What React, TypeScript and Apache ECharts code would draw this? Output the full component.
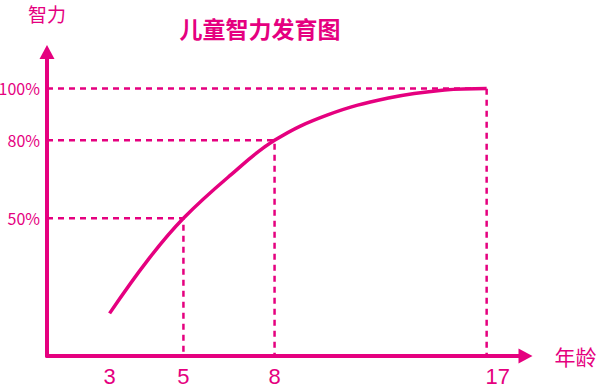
import { useEffect, useRef } from 'react';
import * as echarts from 'echarts';

const TITLE = '儿童智力发育图';
const Y_NAME = '智力';
const X_NAME = '年龄';
// tick labels
const ageTicks = [3, 5, 8, 17];
const levelTicks = [50, 80, 100];
// dashed guide lines (age, level)
const guideAges = [5, 8, 17];
const guideLevels = [50, 80, 100];
// development curve
const curveAges = [3, 4, 5, 6.5, 8, 10, 12.5, 15, 17];
const curveLevels = [13.4, 34.2, 50, 66.8, 80, 89.8, 96.3, 99.4, 100];

// power scale for the age axis (schematic, compressed with age)
const EXP = 0.6;
const fwd = (a: number) => Math.pow(a, EXP);
const inv = (u: number) => Math.pow(u, 1 / EXP);

const AGE_MIN = 1.64;
const AGE_MAX = 18.93;
const LEVEL_MIN = -3;
const LEVEL_MAX = 114;

const COLOR = '#E5007F';
const CJK = '"Noto Sans CJK SC", "Noto Sans", sans-serif';
const NUM = '"Liberation Sans", Arial, sans-serif';

export default function App() {
  const ref = useRef<HTMLDivElement>(null);
  useEffect(() => {
    if (!ref.current) return;
    const chart = echarts.init(ref.current, undefined, { renderer: 'svg' });
    const xMin = fwd(AGE_MIN);
    const lastTick = ageTicks[ageTicks.length - 1];
    const guideSeries = guideAges.map((age, i) => ({
      type: 'line',
      silent: true,
      symbol: 'none',
      z: 1,
      lineStyle: { color: COLOR, width: 2.5, type: [6, 5] },
      data: [
        [xMin, guideLevels[i]],
        [fwd(age), guideLevels[i]],
        [fwd(age), LEVEL_MIN],
      ],
    }));
    chart.setOption({
      animation: false,
      title: {
        text: TITLE,
        left: 260,
        top: 16,
        textAlign: 'center',
        padding: 0,
        textStyle: { color: COLOR, fontSize: 23, fontWeight: 'bold', fontFamily: CJK },
      },
      grid: {
        left: 47,
        right: 74.5,
        top: 52,
        bottom: 33,
        containLabel: false,
        outerBoundsMode: 'none',
      },
      xAxis: {
        type: 'value',
        min: xMin,
        max: fwd(AGE_MAX),
        name: X_NAME,
        nameLocation: 'end',
        nameGap: 29,
        nameTextStyle: { color: COLOR, fontSize: 21, fontFamily: CJK },
        axisLine: {
          onZero: false,
          symbol: ['none', 'triangle'],
          symbolSize: [15, 14],
          lineStyle: { color: COLOR, width: 4 },
        },
        axisTick: { show: false },
        splitLine: { show: false },
        axisLabel: {
          customValues: ageTicks.map(fwd),
          formatter: (v: number) => {
            const age = Math.round(inv(v));
            return age === lastTick ? `{shift|${age}}` : String(age);
          },
          rich: {
            shift: {
              color: COLOR,
              fontSize: 22,
              fontFamily: NUM,
              lineHeight: 22,
              padding: [0, 0, 0, 22],
            },
          },
          color: COLOR,
          fontSize: 22,
          lineHeight: 22,
          fontFamily: NUM,
          margin: 9,
        },
      },
      yAxis: {
        type: 'value',
        min: LEVEL_MIN,
        max: LEVEL_MAX,
        name: Y_NAME,
        nameLocation: 'end',
        nameGap: 29,
        nameTextStyle: {
          color: COLOR,
          fontSize: 19,
          lineHeight: 19,
          fontFamily: CJK,
          align: 'center',
        },
        axisLine: {
          onZero: false,
          symbol: ['none', 'triangle'],
          symbolSize: [15, 14],
          lineStyle: { color: COLOR, width: 4 },
        },
        axisTick: { show: false },
        splitLine: { show: false },
        axisLabel: {
          customValues: levelTicks,
          formatter: '{value}%',
          color: COLOR,
          fontSize: 16,
          fontFamily: CJK,
          margin: 7,
        },
      },
      series: [
        ...guideSeries,
        {
          type: 'line',
          smooth: 0.4,
          symbol: 'none',
          z: 3,
          lineStyle: { color: COLOR, width: 3.5 },
          data: curveAges.map((a, i) => [fwd(a), curveLevels[i]]),
        },
      ],
    });
    return () => chart.dispose();
  }, []);
  return (
    <div
      ref={ref}
      style={{ position: 'fixed', left: 0, top: 0, width: 600, height: 389, background: '#fff' }}
    />
  );
}
